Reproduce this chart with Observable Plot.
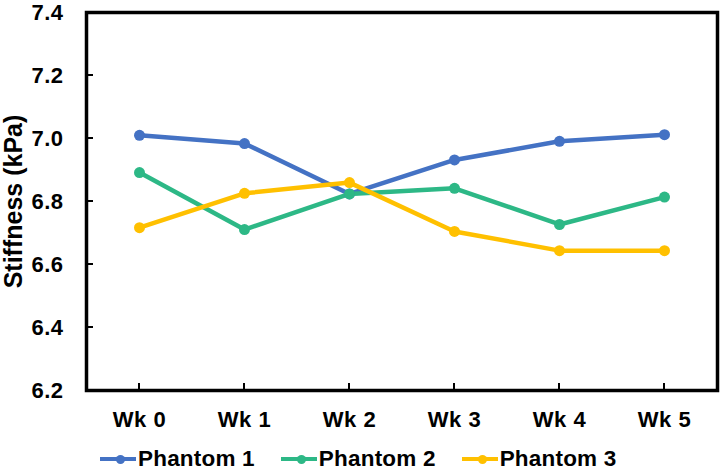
<!DOCTYPE html>
<html><head><meta charset="utf-8">
<script src="https://cdn.jsdelivr.net/npm/d3@7"></script>
<script src="https://cdn.jsdelivr.net/npm/@observablehq/plot@0.6"></script>
<style>
body{margin:0;background:#fff;font-family:"Liberation Sans",Arial,sans-serif;}
#chart svg g[aria-label="y-axis tick label"]{font-size:22px;letter-spacing:0.5px;}
#chart svg g[aria-label="x-axis tick label"]{font-size:22px;letter-spacing:0.5px;}
#chart svg g[aria-label="y-axis label"]{font-size:25px;}
#legend{display:flex;justify-content:flex-start;align-items:center;height:40px;padding-left:100px;padding-top:14px;box-sizing:border-box;font-weight:bold;font-size:22.5px;letter-spacing:0.2px;color:#000;}
.item{display:flex;align-items:center;margin-right:26px;}
.sw{position:relative;width:36px;height:10px;margin-right:2px;}
.sw .l{position:absolute;left:0;right:0;top:3px;height:4px;}
.sw .d{position:absolute;left:16px;top:1px;width:9px;height:9px;border-radius:50%;}
</style></head>
<body>
<div id="chart"></div>
<div id="legend"></div>
<script>
const weeks = ["Wk 0","Wk 1","Wk 2","Wk 3","Wk 4","Wk 5"];
const seriesNames = ["Phantom 1","Phantom 2","Phantom 3"];
const colors = ["#4472C4","#2DB886","#FFC000"];
const phantom1 = [7.010, 6.984, 6.824, 6.932, 6.991, 7.012];
const phantom2 = [6.892, 6.711, 6.824, 6.842, 6.727, 6.814];
const phantom3 = [6.717, 6.826, 6.860, 6.705, 6.644, 6.644];
const yTicks = [6.2,6.4,6.6,6.8,7.0,7.2,7.4];

const allSeries = [phantom1, phantom2, phantom3];
const data = [];
allSeries.forEach((vals, s) => vals.forEach((v, i) => data.push({week: weeks[i], value: v, series: seriesNames[s]})));

// inward tick marks drawn with the chart's own scales
function innerTicks(index, scales, values, dims) {
  const g = d3.create("svg:g").attr("stroke", "#000").attr("stroke-width", 2);
  const left = dims.marginLeft, bottom = dims.height - dims.marginBottom;
  for (const t of yTicks) {
    const y = scales.y(t);
    g.append("line").attr("x1", left).attr("x2", left + 7).attr("y1", y).attr("y2", y);
  }
  for (const w of weeks) {
    const x = scales.x(w);
    g.append("line").attr("x1", x).attr("x2", x).attr("y1", bottom).attr("y2", bottom - 7);
  }
  return g.node();
}

const chart = Plot.plot({
  width: 723, height: 432,
  marginLeft: 86, marginRight: 6, marginTop: 12, marginBottom: 42,
  style: {fontFamily: '"Liberation Sans", Arial, sans-serif', fontWeight: "bold", fontSize: "20px", color: "#000"},
  x: {type: "point", domain: weeks, padding: 0.5},
  y: {domain: [6.2, 7.4]},
  color: {domain: seriesNames, range: colors},
  marks: [
    Plot.axisY({ticks: yTicks, tickFormat: d => d.toFixed(1), tickSize: 0, tickPadding: 23,
      label: "Stiffness (kPa)", labelAnchor: "center", labelArrow: "none", labelOffset: 82}),
    Plot.axisX({tickSize: 0, tickPadding: 21, label: null}),
    Plot.line(data, {x: "week", y: "value", z: "series", stroke: "series", strokeWidth: 4.5}),
    Plot.dot(data, {x: "week", y: "value", fill: "series", r: 5.5}),
    innerTicks,
    Plot.frame({stroke: "#000", strokeWidth: 3.5})
  ]
});
document.getElementById("chart").appendChild(chart);

const leg = document.getElementById("legend");
seriesNames.forEach((n, i) => {
  const it = document.createElement("div"); it.className = "item";
  it.innerHTML = `<div class="sw"><div class="l" style="background:${colors[i]}"></div><div class="d" style="background:${colors[i]}"></div></div><span>${n}</span>`;
  leg.appendChild(it);
});
</script>
</body></html>
